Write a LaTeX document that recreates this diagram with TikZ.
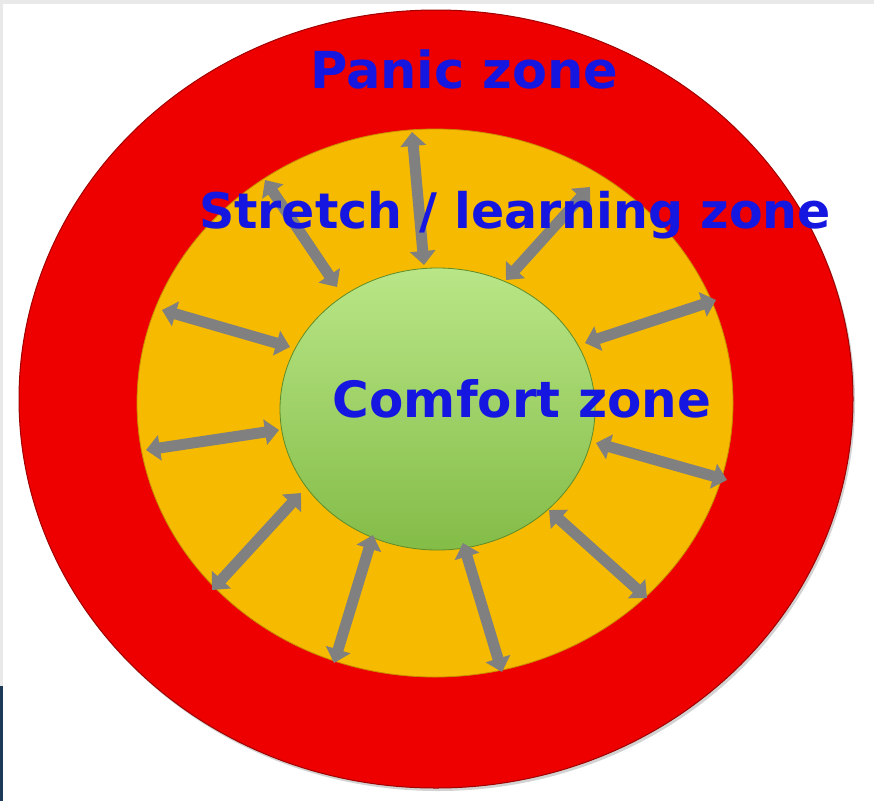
\documentclass[tikz,border=0pt]{standalone}
\usepackage{fontspec}
\newfontfamily\zonefont{DejaVu Sans}
\usepackage{tikz}
\usetikzlibrary{arrows.meta,shadows}
\definecolor{panicred}{RGB}{238,0,0}
\definecolor{panicrim}{RGB}{160,0,0}
\definecolor{stretchyel}{RGB}{246,186,0}
\definecolor{stretchrim}{RGB}{200,140,0}
\definecolor{comfgrn}{RGB}{140,200,76}
\definecolor{comflight}{RGB}{185,230,135}
\definecolor{comfrim}{RGB}{95,140,40}
\definecolor{zoneblue}{RGB}{22,22,225}
\definecolor{arrgray}{RGB}{128,128,128}
\definecolor{framegray}{RGB}{233,233,233}
\definecolor{framenavy}{RGB}{28,58,88}
\tikzset{
  panic/.style   ={fill=panicred,draw=panicrim,line width=1pt,drop shadow={shadow xshift=2pt,shadow yshift=-3pt,opacity=.35}},
  stretch/.style ={fill=stretchyel,draw=stretchrim,line width=.8pt},
  comfort/.style ={top color=comflight,middle color=comfgrn,bottom color=comfgrn!94!black,draw=comfrim,line width=.8pt},
  zonelabel/.style={font=\zonefont\bfseries,text=zoneblue,anchor=base,inner sep=0pt},
  reach/.style   ={arrgray,line width=11pt,{Triangle[length=14pt,width=25pt]}-{Triangle[length=14pt,width=25pt]}},
}
\begin{document}
\begin{tikzpicture}[x=1pt,y=-1pt]
  \useasboundingbox (0,0) rectangle (874,801);
  \fill[white] (0,0) rectangle (874,801);
  \fill[framegray] (0,0) rectangle (874,4);  \fill[framegray] (0,0) rectangle (3,686);
  \fill[framenavy] (0,686) rectangle (3,801);
  % the three zones
  \path[panic] (436,399) ellipse [x radius=417,y radius=389];
  \path[stretch] (435,403) ellipse [x radius=298,y radius=274];
  \path[comfort] (437.5,409) ellipse [x radius=157.5,y radius=141];
  % arrows between comfort and panic zone
  \foreach \k/\ox/\oy/\ix/\iy in {1/265/180/337/287, 2/412/132/424/265, 3/590/187/506/280, 4/162/310/290/347,
      5/716/300/585/343, 6/146/450/279/430, 7/727/480/596/443, 8/212/590/301/493,
      9/334/663/373/535, 10/502/672/463/543, 11/647/598/549/510}{
    \coordinate (out\k) at (\ox,\oy); \coordinate (in\k) at (\ix,\iy);
    \draw[reach] (out\k) -- (in\k);
  }
  \node[zonelabel,font=\zonefont\bfseries\fontsize{51}{51}\selectfont] (panictxt) at (464,88) {Panic zone};
  \node[zonelabel,font=\zonefont\bfseries\fontsize{49}{49}\selectfont] (stretchtxt) at (515,228) {Stretch / learning zone};
  \node[zonelabel,font=\zonefont\bfseries\fontsize{50}{50}\selectfont] (comforttxt) at (522,417) {Comfort zone};
\end{tikzpicture}
\end{document}
